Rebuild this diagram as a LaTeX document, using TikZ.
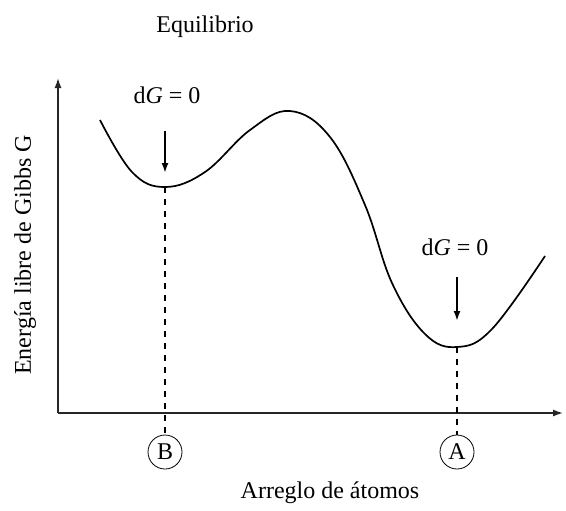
\documentclass[tikz,border=0pt]{standalone}
\usepackage{fontspec}
\setmainfont{Liberation Serif}
\usetikzlibrary{arrows.meta}
\begin{document}
\begin{tikzpicture}[x=0.5pt, y=-0.5pt, >={Latex[length=5pt,width=3.5pt]}, every node/.style={font=\fontsize{12}{14}\selectfont}]
\useasboundingbox (0,0) rectangle (566,510);
% axes
\coordinate (origin) at (58,413);
\coordinate (ytip) at (58,78);
\coordinate (xtip) at (563,413);
\draw[->, line width=0.7pt, black!85] (origin) -- (ytip);
\draw[->, line width=0.7pt, black!85] (origin) -- (xtip);
% texts
\node (title) at (205,27) {Equilibrio};
\node[rotate=90] (ylab) at (25,255) {Energía libre de Gibbs G};
\node (xlab) at (330,493) {Arreglo de átomos};
\node (dGB) at (167,95) {d\textit{G} = 0};
\node (dGA) at (455,247) {d\textit{G} = 0};
% minima
\coordinate (minB) at (165,187);
\coordinate (minA) at (457,347);
\node[draw, circle, minimum size=17pt, inner sep=0pt] (circB) at (165,452) {B};
\node[draw, circle, minimum size=17pt, inner sep=0pt] (circA) at (457,452) {A};
% energy curve
\draw[line width=0.85pt] plot[smooth, tension=0.65] coordinates {(100,120) (132,172) (165,187) (205,172) (250,130) (290,111) (330,137) (365,205) (392,283) (425,334) (457,347) (492,329) (545,256)};
% dashed lines
\draw[dashed, line width=0.6pt] (minB) -- (circB);
\draw[dashed, line width=0.6pt] (minA) -- (circA);
% arrows
\path (dGB.south -| minB) coordinate (arrB);
\path (dGA.south -| minA) coordinate (arrA);
\draw[->, line width=0.9pt] ([yshift=-10pt]arrB) -- ([yshift=7pt]minB);
\draw[->, line width=0.9pt] ([yshift=-7pt]arrA) -- ([yshift=13pt]minA);
\end{tikzpicture}
\end{document}
